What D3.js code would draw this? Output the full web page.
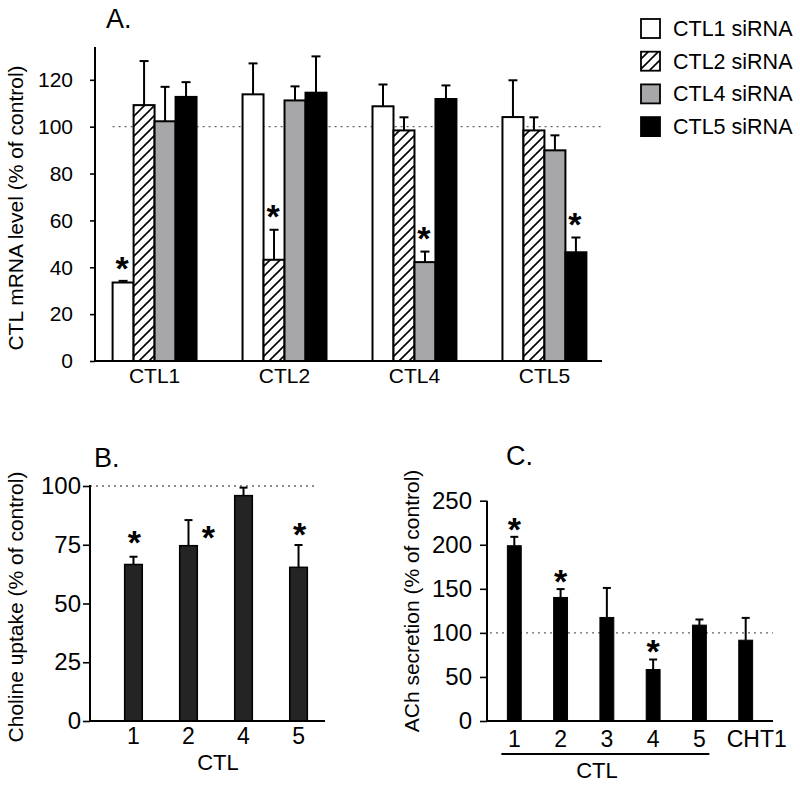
<!DOCTYPE html>
<html>
<head>
<meta charset="utf-8">
<script src="https://cdn.jsdelivr.net/npm/d3@7"></script>
<style>
  html, body { margin: 0; padding: 0; background: #fff; }
  svg { display: block; }
  text { font-family: "Liberation Sans", Arial, sans-serif; fill: #000; }
</style>
</head>
<body>
<svg id="chart" width="800" height="786"></svg>
<script>
// ---------------- DATA ----------------
// Panel A
const groupsA = ["CTL1", "CTL2", "CTL4", "CTL5"];
const seriesA = ["CTL1 siRNA", "CTL2 siRNA", "CTL4 siRNA", "CTL5 siRNA"];
const ctl1siRNA = [33.5, 113.8, 108.7, 104.1];
const ctl2siRNA = [109.2, 43.2, 98.4, 98.4];
const ctl4siRNA = [102.3, 111.2, 42.2, 89.9];
const ctl5siRNA = [112.7, 114.5, 111.8, 46.4];
const ctl1Err = [0.7, 13.2, 9.3, 15.7];
const ctl2Err = [18.8, 12.8, 5.6, 5.6];
const ctl4Err = [14.7, 6.0, 4.5, 6.4];
const ctl5Err = [6.3, 15.5, 5.8, 6.3];
const ticksA = [0, 20, 40, 60, 80, 100, 120];
// Panel B
const categoriesB = ["1", "2", "4", "5"];
const valuesB = [66.6, 74.6, 95.9, 65.4];
const errB = [3.3, 10.9, 3.4, 9.5];
const sigB = [true, true, false, true];
const ticksB = [0, 25, 50, 75, 100];
// Panel C
const categoriesC = ["1", "2", "3", "4", "5", "CHT1"];
const valuesC = [198.9, 140.2, 117.5, 58.4, 108.8, 91.7];
const errC = [10.1, 9.5, 33.5, 11.4, 6.4, 25.3];
const sigC = [true, true, false, true, false, false];
const ticksC = [0, 50, 100, 150, 200, 250];

const valsA = [ctl1siRNA, ctl2siRNA, ctl4siRNA, ctl5siRNA];
const errsA = [ctl1Err, ctl2Err, ctl4Err, ctl5Err];

// ---------------- DRAW ----------------
const svg = d3.select("#chart");
const FONT = '"Liberation Sans", Arial, sans-serif';

const defs = svg.append("defs");
const pat = defs.append("pattern")
  .attr("id", "hatch").attr("patternUnits", "userSpaceOnUse")
  .attr("width", 10).attr("height", 10);
pat.append("rect").attr("width", 10).attr("height", 10).attr("fill", "#fff");
pat.append("path")
  .attr("d", "M-1,11 L11,-1 M-6,6 L6,-6 M4,16 L16,4")
  .attr("stroke", "#000").attr("stroke-width", 1.6);

const fills = ["#ffffff", "url(#hatch)", "#a7a7a9", "#000000"];

function styleAxis(g, size) {
  g.selectAll("text").style("font-family", FONT).style("font-size", size + "px").attr("fill", "#000");
  g.selectAll("line").attr("stroke", "#000").attr("stroke-width", 1.6);
  g.selectAll("path.domain").remove();
}

function star(g, x, y, size) {
  g.append("text").attr("x", x).attr("y", y + size * 0.55)
    .attr("text-anchor", "middle")
    .style("font-size", size + "px").style("font-weight", "bold")
    .text("*");
}

function errBar(g, x, y0, y1, cap) {
  g.append("line").attr("x1", x).attr("x2", x).attr("y1", y0).attr("y2", y1)
    .attr("stroke", "#000").attr("stroke-width", 2);
  g.append("line").attr("x1", x - cap / 2).attr("x2", x + cap / 2).attr("y1", y1).attr("y2", y1)
    .attr("stroke", "#000").attr("stroke-width", 2);
}

// ===== Panel A =====
(function () {
  const axX = 95, base = 361, top = 47, right = 602;
  const y = d3.scaleLinear().domain([0, 134]).range([base, top]);
  const x0 = d3.scaleBand().domain(groupsA).range([97, right]).paddingInner(0.354).paddingOuter(0.12);
  const x1 = d3.scaleBand().domain(seriesA).range([0, x0.bandwidth()]).padding(0);
  const g = svg.append("g");

  // reference line at 100
  g.append("line").attr("x1", x0(groupsA[0])).attr("x2", right)
    .attr("y1", y(100)).attr("y2", y(100))
    .attr("stroke", "#666").attr("stroke-width", 1.4).attr("stroke-dasharray", "2,4");

  seriesA.forEach((s, si) => {
    groupsA.forEach((grp, gi) => {
      const v = valsA[si][gi], e = errsA[si][gi];
      const bx = x0(grp) + x1(s);
      const cx = bx + x1.bandwidth() / 2;
      errBar(g, cx, y(v), y(v + e), 9);
      g.append("rect").attr("x", bx).attr("y", y(v))
        .attr("width", x1.bandwidth()).attr("height", base - y(v))
        .attr("fill", fills[si]).attr("stroke", "#000").attr("stroke-width", 2);
      if (si === gi) star(g, cx - 1, y(v + e) - 20, 34);
    });
  });

  const ya = g.append("g").attr("transform", `translate(${axX},0)`)
    .call(d3.axisLeft(y).tickValues(ticksA).tickSize(5).tickPadding(17));
  styleAxis(ya, 21);
  const xa = g.append("g").attr("transform", `translate(0,${base})`)
    .call(d3.axisBottom(x0).tickSize(0).tickPadding(7));
  styleAxis(xa, 21);

  g.append("line").attr("x1", axX).attr("x2", axX).attr("y1", top).attr("y2", base + 1)
    .attr("stroke", "#000").attr("stroke-width", 2);
  g.append("line").attr("x1", axX).attr("x2", right).attr("y1", base).attr("y2", base)
    .attr("stroke", "#000").attr("stroke-width", 2);

  g.append("text").attr("transform", `translate(23,${(top + base) / 2 + 4}) rotate(-90)`)
    .attr("text-anchor", "middle").style("font-size", "21px")
    .text("CTL mRNA level (% of control)");
  g.append("text").attr("x", 106).attr("y", 28).style("font-size", "27px").text("A.");

  // legend
  const lg = svg.append("g");
  seriesA.forEach((s, i) => {
    const ly = 19 + i * 32.7;
    lg.append("rect").attr("x", 641).attr("y", ly).attr("width", 19).attr("height", 19)
      .attr("fill", fills[i]).attr("stroke", "#000").attr("stroke-width", 1.8);
    lg.append("text").attr("x", 673).attr("y", ly + 17).style("font-size", "21.5px").text(s);
  });
})();

// ===== Panel B =====
(function () {
  const axX = 90, base = 721, top = 486, right = 325;
  const y = d3.scaleLinear().domain([0, 100]).range([base, top]);
  const x = d3.scaleBand().domain(categoriesB).range([90, 342]).paddingInner(0.68).paddingOuter(0.63);
  const g = svg.append("g");

  g.append("line").attr("x1", axX).attr("x2", 318).attr("y1", y(100)).attr("y2", y(100))
    .attr("stroke", "#666").attr("stroke-width", 1.4).attr("stroke-dasharray", "2,4");

  categoriesB.forEach((c, i) => {
    const v = valuesB[i], e = errB[i];
    const cx = x(c) + x.bandwidth() / 2;
    errBar(g, cx, y(v), y(v + e), 8);
    g.append("rect").attr("x", x(c)).attr("y", y(v))
      .attr("width", x.bandwidth()).attr("height", base - y(v))
      .attr("fill", "#242424").attr("stroke", "#000").attr("stroke-width", 1.5);
    if (sigB[i]) {
      if (i === 1) star(g, cx + 20, 530, 34);
      else star(g, cx + 1, Math.min(y(v + e) - 18, 535), 34);
    }
  });

  const ya = g.append("g").attr("transform", `translate(${axX},0)`)
    .call(d3.axisLeft(y).tickValues(ticksB).tickSize(7).tickPadding(2));
  styleAxis(ya, 24);
  const xa = g.append("g").attr("transform", `translate(0,${base})`)
    .call(d3.axisBottom(x).tickSize(0).tickPadding(7));
  styleAxis(xa, 23);

  g.append("line").attr("x1", axX).attr("x2", axX).attr("y1", top - 1).attr("y2", base + 1)
    .attr("stroke", "#000").attr("stroke-width", 2);
  g.append("line").attr("x1", axX).attr("x2", right).attr("y1", base).attr("y2", base)
    .attr("stroke", "#000").attr("stroke-width", 2);

  g.append("text").attr("x", 218).attr("y", 770).attr("text-anchor", "middle")
    .style("font-size", "22px").text("CTL");
  g.append("text").attr("transform", `translate(23,607) rotate(-90)`)
    .attr("text-anchor", "middle").style("font-size", "21px")
    .text("Choline uptake (% of control)");
  g.append("text").attr("x", 94).attr("y", 467).style("font-size", "27px").text("B.");
})();

// ===== Panel C =====
(function () {
  const axX = 487, base = 721, top = 500.7, right = 773;
  const y = d3.scaleLinear().domain([0, 250]).range([base, top]);
  const x = d3.scaleBand().domain(categoriesC).range([487, 773]).paddingInner(0.7).paddingOuter(0.44);
  const g = svg.append("g");

  g.append("line").attr("x1", 490).attr("x2", right).attr("y1", y(100)).attr("y2", y(100))
    .attr("stroke", "#666").attr("stroke-width", 1.4).attr("stroke-dasharray", "2,4");

  categoriesC.forEach((c, i) => {
    const v = valuesC[i], e = errC[i];
    const cx = x(c) + x.bandwidth() / 2;
    errBar(g, cx, y(v), y(v + e), 8);
    g.append("rect").attr("x", x(c)).attr("y", y(v))
      .attr("width", x.bandwidth()).attr("height", base - y(v))
      .attr("fill", "#000").attr("stroke", "#000").attr("stroke-width", 1);
    if (sigC[i]) star(g, cx, y(v + e) - 15, 34);
  });

  const ya = g.append("g").attr("transform", `translate(${axX},0)`)
    .call(d3.axisLeft(y).tickValues(ticksC).tickSize(7).tickPadding(8));
  styleAxis(ya, 24);
  const xa = g.append("g").attr("transform", `translate(0,${base})`)
    .call(d3.axisBottom(x).tickSize(0).tickPadding(10));
  styleAxis(xa, 23);
  xa.selectAll(".tick").filter(d => d === "CHT1").select("text").attr("dx", 11);

  g.append("line").attr("x1", axX).attr("x2", axX).attr("y1", top).attr("y2", base + 1)
    .attr("stroke", "#000").attr("stroke-width", 2);
  g.append("line").attr("x1", axX).attr("x2", right).attr("y1", base).attr("y2", base)
    .attr("stroke", "#000").attr("stroke-width", 2);

  // CTL grouping underline
  g.append("line").attr("x1", x("1") - 6).attr("x2", x("5") + x.bandwidth() + 3)
    .attr("y1", 754).attr("y2", 754).attr("stroke", "#000").attr("stroke-width", 2);
  g.append("text").attr("x", 597).attr("y", 778).attr("text-anchor", "middle")
    .style("font-size", "22px").text("CTL");
  g.append("text").attr("transform", `translate(419,601) rotate(-90)`)
    .attr("text-anchor", "middle").style("font-size", "21px")
    .text("ACh secretion (% of control)");
  g.append("text").attr("x", 506).attr("y", 465).style("font-size", "27px").text("C.");
})();
</script>
</body>
</html>
